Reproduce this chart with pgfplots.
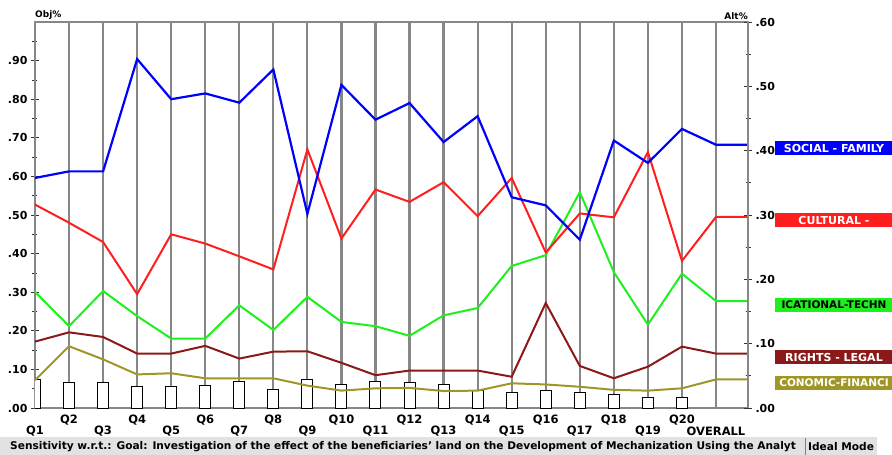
\documentclass[border=0pt]{standalone}
\usepackage{pgfplots}
\pgfplotsset{compat=1.18}
\usepackage{pgfplotstable}
\usepackage{fontspec}
\setmainfont{DejaVu Sans}

\definecolor{socblue}{RGB}{0,0,255}
\definecolor{culred}{RGB}{255,30,30}
\definecolor{edugreen}{RGB}{30,240,30}
\definecolor{rigred}{RGB}{140,25,25}
\definecolor{ecoolive}{RGB}{160,150,40}
\definecolor{gridgray}{RGB}{135,135,135}
\definecolor{statusbg}{RGB}{226,226,226}

% sensitivity values per objective (left axis, Obj%)
\pgfplotstableread{
x     soc   cul   edu   rig   eco
0     0.596 0.527 0.301 0.172 0.072
1     0.613 0.480 0.212 0.196 0.160
2     0.613 0.430 0.303 0.184 0.126
3     0.904 0.295 0.238 0.141 0.087
4     0.800 0.450 0.180 0.141 0.090
5     0.815 0.426 0.180 0.161 0.077
6     0.791 0.393 0.266 0.128 0.077
7     0.877 0.359 0.202 0.146 0.077
8     0.503 0.670 0.288 0.147 0.058
9     0.837 0.439 0.223 0.117 0.045
10    0.747 0.566 0.212 0.085 0.051
11    0.790 0.534 0.187 0.097 0.052
12    0.689 0.585 0.240 0.097 0.044
13    0.756 0.497 0.259 0.097 0.045
14    0.546 0.596 0.368 0.081 0.064
15    0.525 0.403 0.396 0.272 0.061
16    0.436 0.504 0.559 0.109 0.055
17    0.693 0.494 0.352 0.077 0.047
18    0.635 0.663 0.216 0.107 0.045
19    0.723 0.381 0.348 0.159 0.051
20    0.682 0.495 0.277 0.141 0.074
20.94 0.682 0.495 0.277 0.141 0.074
}\sens

% objective weights (bars)
\pgfplotstableread{
x  w
0  0.075
1  0.065
2  0.065
3  0.055
4  0.055
5  0.058
6  0.068
7  0.047
8  0.075
9  0.060
10 0.068
11 0.067
12 0.060
13 0.045
14 0.041
15 0.045
16 0.039
17 0.036
18 0.026
19 0.026
}\bars

\newcommand{\lbl}{\fontsize{11}{11}\selectfont\bfseries}

\begin{document}
\begin{tikzpicture}[font=\bfseries]
\path[use as bounding box] (0,0) rectangle (892pt,-455pt);

\begin{axis}[
  name=main,
  at={(35pt,-408pt)}, anchor=south west,
  scale only axis, width=713pt, height=386pt,
  xmin=0, xmax=20.94, ymin=0, ymax=1,
  xtick={0,2,4,6,8,10,12,14,16,18,20},
  xticklabels={Q1,Q3,Q5,Q7,Q9,Q11,Q13,Q15,Q17,Q19,OVERALL},
  extra x ticks={1,3,5,7,9,11,13,15,17,19},
  extra x tick labels={Q2,Q4,Q6,Q8,Q10,Q12,Q14,Q16,Q18,Q20},
  extra x tick style={grid=major, xticklabel style={yshift=11pt}},
  xticklabel style={font=\fontsize{11.5}{11.5}\selectfont\bfseries, anchor=center, yshift=-19pt},
  xtick style={draw=none},
  xmajorgrids,
  grid style={gridgray, line width=2.2pt},
  ytick={0,0.1,0.2,0.3,0.4,0.5,0.6,0.7,0.8,0.9},
  yticklabels={.00,.10,.20,.30,.40,.50,.60,.70,.80,.90},
  minor ytick={0.05,0.15,0.25,0.35,0.45,0.55,0.65,0.75,0.85,0.95},
  ytick pos=left,
  yticklabel style={font=\lbl},
  ytick style={black!80, line width=0.8pt},
  tick align=center,
  major tick length=8pt, minor tick length=5pt,
  axis line style={gridgray, line width=1.5pt},
]
\addplot[ybar, bar width=11pt, fill=white, draw=black, line width=1pt] table[x=x, y=w] {\bars};
\addplot[ecoolive, line width=2pt] table[x=x, y=eco] {\sens};
\addplot[rigred, line width=2pt] table[x=x, y=rig] {\sens};
\addplot[edugreen, line width=2pt] table[x=x, y=edu] {\sens};
\addplot[culred, line width=2pt] table[x=x, y=cul] {\sens};
\addplot[socblue, line width=2.2pt] table[x=x, y=soc] {\sens};

\coordinate (socL) at (axis cs:20.94,0.682);
\coordinate (culL) at (axis cs:20.94,0.495);
\coordinate (eduL) at (axis cs:20.94,0.277);
\coordinate (rigL) at (axis cs:20.94,0.141);
\coordinate (ecoL) at (axis cs:20.94,0.074);
\end{axis}

\begin{axis}[
  at={(35pt,-408pt)}, anchor=south west,
  scale only axis, width=713pt, height=386pt,
  xmin=0, xmax=20.94, ymin=0, ymax=0.6,
  axis x line=none, axis y line*=right,
  ytick={0,0.1,0.2,0.3,0.4,0.5,0.6},
  yticklabels={.00,.10,.20,.30,.40,.50,.60},
  minor ytick={0.05,0.15,0.25,0.35,0.45,0.55},
  yticklabel style={font=\lbl},
  ytick style={black!80, line width=0.8pt},
  tick align=center,
  major tick length=8pt, minor tick length=5pt,
  axis line style={gridgray, line width=1.5pt},
]
\addplot[draw=none] coordinates {(0,0)};
\end{axis}

\node[anchor=south west, inner sep=0pt, font=\fontsize{9}{9}\selectfont\bfseries] at ([yshift=2pt]main.north west) {Obj\%};
\node[anchor=south east, inner sep=0pt, font=\fontsize{9}{9}\selectfont\bfseries] at ([yshift=2pt]main.north east) {Alt\%};

% labels of the objectives (the pane shows only part of the longer names)
\coordinate (lx) at (834pt,0pt);
\begin{scope}
  \clip (775pt,-455pt) rectangle (892pt,0pt);
  \tikzset{lab/.style={minimum width=140pt, minimum height=14pt, inner sep=0pt, yshift=-3.5pt, font=\lbl}}
  \node[lab, fill=socblue, text=white] at (socL -| lx) {SOCIAL - FAMILY};
  \node[lab, fill=culred, text=white] at (culL -| lx) {CULTURAL -};
  \node[lab, fill=edugreen, text=black, font=\fontsize{10.5}{10.5}\selectfont\bfseries] at (eduL -| lx) {ICATIONAL-TECHN};
  \node[lab, fill=rigred, text=white] at (rigL -| lx) {RIGHTS - LEGAL};
  \node[lab, fill=ecoolive, text=white, font=\fontsize{10.5}{10.5}\selectfont\bfseries] at (ecoL -| lx) {CONOMIC-FINANCI};
\end{scope}

% status bar
\fill[statusbg] (0pt,-437pt) rectangle (877pt,-455pt);
\draw[gray, line width=0.8pt] (805pt,-438pt) -- (805pt,-455pt);
\node[anchor=west, inner sep=0pt, font=\fontsize{10.6}{10.6}\selectfont\bfseries] at (10pt,-446.5pt)
  {Sensitivity w.r.t.: Goal: Investigation of the effect of the beneficiaries' land on the Development of Mechanization Using the Analyt};
\node[anchor=west, inner sep=0pt, font=\fontsize{10.6}{10.6}\selectfont\bfseries] at (808pt,-446.5pt) {Ideal Mode};
\end{tikzpicture}
\end{document}
